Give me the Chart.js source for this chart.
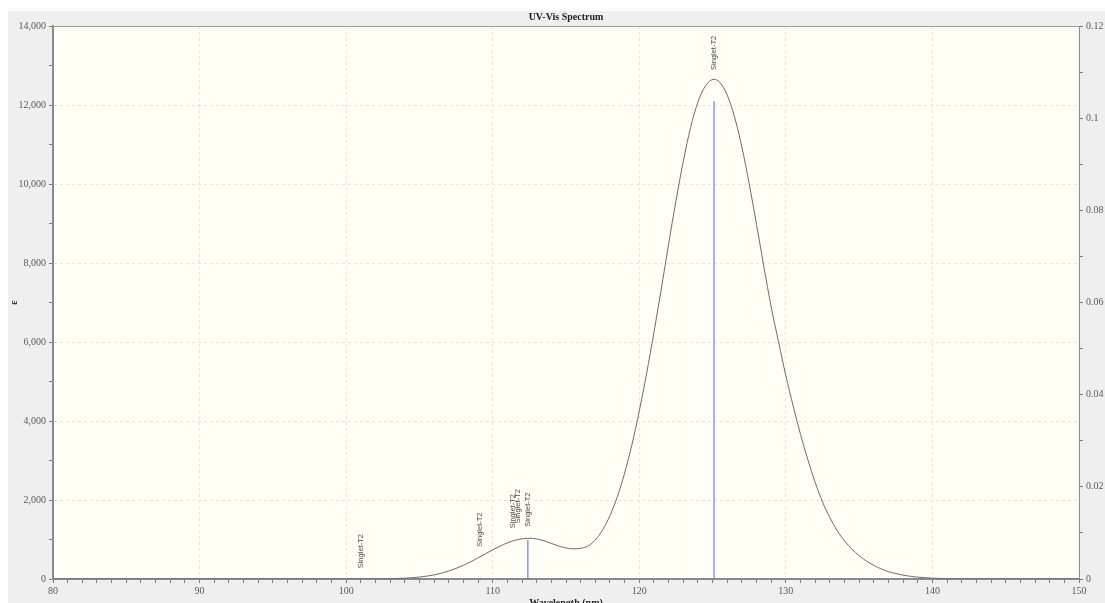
<!DOCTYPE html>
<html>
<head>
<meta charset="utf-8">
<title>UV-Vis Spectrum</title>
<script src="https://cdn.jsdelivr.net/npm/chart.js@4.4.1/dist/chart.umd.min.js"></script>
<style>
  html, body { margin: 0; padding: 0; background: #fff; overflow: hidden; }
  #wrap { position: absolute; left: 8px; top: 11px; width: 1097px; height: 592px; background: #efefef; overflow: hidden; }
  canvas { display: block; }
</style>
</head>
<body>
<div id="wrap"><canvas id="uvChart" width="1097" height="598" style="width:1097px;height:598px"></canvas></div>
<script>
// broadened spectrum (wavelength in nm, epsilon)
const wavelengthNm = [
  80, 85, 90, 95, 100, 101, 102, 103, 104, 104.5,
  105, 105.5, 106, 106.5, 107, 107.5, 108, 108.5, 109, 109.5,
  110, 110.5, 111, 111.5, 112, 112.4, 113, 113.5, 114, 114.5,
  115, 115.5, 116, 116.5, 117, 117.5, 118, 118.5, 119, 119.5,
  120, 120.5, 121, 121.5, 122, 122.5, 123, 123.5, 124, 124.5,
  125.1, 125.5, 126, 126.5, 127, 127.5, 128, 128.5, 129, 129.5,
  130, 130.5, 131, 131.5, 132, 132.5, 133, 133.5, 134, 134.5,
  135, 135.5, 136, 136.5, 137, 137.5, 138, 138.5, 139, 139.5,
  140, 141, 142, 144, 146, 150];
const epsilon = [
  0, 0, 0, 0, 0, 1, 3, 8, 20, 32,
  49, 72, 104, 147, 201, 268, 347, 437, 535, 637,
  738, 832, 915, 978, 1017, 1031, 1015, 967, 901, 835,
  785, 765, 775, 835, 990, 1244, 1604, 2081, 2682, 3405,
  4252, 5205, 6245, 7340, 8479, 9565, 10574, 11428, 12073, 12475,
  12650, 12570, 12250, 11696, 10937, 10000, 8973, 7906, 6886, 6005,
  5148, 4380, 3664, 3020, 2448, 1951, 1558, 1223, 966, 759,
  592, 453, 346, 256, 187, 138, 97, 68, 47, 33,
  21, 9, 4, 1, 0, 0];

// transitions (oscillator strength on the right axis)
const stickNm = [101.0, 109.15, 111.35, 111.69, 112.4, 125.1];
const stickF = [0.0002, 0.0003, 0.0002, 0.0002, 0.0085, 0.1037];
const stickText = ['Singlet-T2', 'Singlet-T2', 'Singlet-T2', 'Singlet-T2', 'Singlet-T2', 'Singlet-T2'];
const labelEps = [271, 818, 1284, 1410, 1324, 12886]; // where each label starts

const spectrum = wavelengthNm.map((x, i) => ({ x: x, y: epsilon[i] }));
const sticks = [];
stickNm.forEach((x, i) => {
  sticks.push({ x: x, y: 0 }, { x: x, y: stickF[i] }, { x: x, y: null });
});

const tickFont = { family: 'Liberation Serif', size: 10 };
const tickGray = '#5a5a5a';
const gridCol = '#e6e6de';

const areaBg = {
  id: 'areaBg',
  beforeDraw(chart) {
    const a = chart.chartArea, c = chart.ctx;
    c.save();
    c.fillStyle = '#fefef5';
    c.fillRect(a.left, a.top, a.right - a.left, a.bottom - a.top);
    c.restore();
  },
  afterDraw(chart) {
    const a = chart.chartArea, c = chart.ctx;
    c.save();
    c.strokeStyle = '#9c9c9c';
    c.lineWidth = 1;
    c.beginPath();
    c.moveTo(a.left, a.top + 0.5);
    c.lineTo(a.right, a.top + 0.5);
    c.stroke();
    c.restore();
  }
};

const stickLabels = {
  id: 'stickLabels',
  afterDatasetsDraw(chart) {
    const xs = chart.scales.x, ys = chart.scales.y, c = chart.ctx;
    c.save();
    c.font = '7.5px "Liberation Sans"';
    c.fillStyle = '#4a4a4a';
    c.textAlign = 'left';
    c.textBaseline = 'middle';
    stickNm.forEach((nm, i) => {
      c.save();
      c.translate(xs.getPixelForValue(nm), ys.getPixelForValue(labelEps[i]));
      c.rotate(-Math.PI / 2);
      c.fillText(stickText[i], 0, 0);
      c.restore();
    });
    c.restore();
  }
};

const ctx = document.getElementById('uvChart').getContext('2d');
const uvChart = new Chart(ctx, {
  type: 'line',
  data: {
    datasets: [{
      label: 'Spectrum',
      data: spectrum,
      borderColor: '#6c6c6c',
      borderWidth: 1,
      pointRadius: 0,
      cubicInterpolationMode: 'monotone',
      yAxisID: 'y'
    }, {
      label: 'Transitions',
      data: sticks,
      borderColor: '#5a5aff',
      borderWidth: 1,
      pointRadius: 0,
      spanGaps: false,
      tension: 0,
      yAxisID: 'y1'
    }]
  },
  options: {
    responsive: false,
    animation: false,
    layout: { padding: 0 },
    plugins: {
      legend: { display: false },
      tooltip: { enabled: false },
      title: {
        display: true,
        text: 'UV-Vis Spectrum',
        fullSize: false,
        color: '#222',
        font: { family: 'Liberation Serif', size: 10, weight: 'bold' },
        padding: { top: 0, bottom: 3 }
      }
    },
    scales: {
      x: {
        type: 'linear',
        min: 80,
        max: 150,
        afterFit: s => { s.height = 30; },
        ticks: {
          stepSize: 1,
          autoSkip: false,
          maxRotation: 0,
          padding: 2,
          color: tickGray,
          font: tickFont,
          callback: v => (v % 10 === 0 ? String(v) : '')
        },
        grid: {
          color: c => (c.tick && c.tick.value % 10 === 0 ? gridCol : 'rgba(0,0,0,0)'),
          tickColor: '#7a7a7a',
          tickLength: 4,
          tickBorderDash: []
        },
        border: { display: true, color: '#8a8a8a', width: 2, dash: [3, 3] },
        title: {
          display: true,
          text: 'Wavelength (nm)',
          color: '#222',
          font: { family: 'Liberation Serif', size: 10, weight: 'bold' },
          padding: 0
        }
      },
      y: {
        position: 'left',
        min: 0,
        max: 14000,
        afterFit: s => { s.width = 45; },
        ticks: {
          stepSize: 1000,
          autoSkip: false,
          padding: 3,
          color: tickGray,
          font: tickFont,
          callback: v => (v % 2000 === 0 ? v.toLocaleString('en-US') : '')
        },
        grid: {
          color: c => (c.tick && c.tick.value % 2000 === 0 ? gridCol : 'rgba(0,0,0,0)'),
          tickColor: '#7a7a7a',
          tickLength: 4,
          tickBorderDash: []
        },
        border: { display: true, color: '#8a8a8a', width: 2, dash: [3, 3] },
        title: {
          display: true,
          text: 'ε',
          color: '#222',
          font: { family: 'Liberation Serif', size: 10, weight: 'bold' },
          padding: 0
        }
      },
      y1: {
        position: 'right',
        min: 0,
        max: 0.12,
        afterFit: s => { s.width = 26; },
        ticks: {
          stepSize: 0.01,
          autoSkip: false,
          padding: 3,
          color: tickGray,
          font: tickFont,
          callback: v => {
            const k = Math.round(v * 100);
            return k % 2 === 0 ? String(k / 100) : '';
          }
        },
        grid: {
          drawOnChartArea: false,
          tickColor: '#7a7a7a',
          tickLength: 4,
          tickBorderDash: []
        },
        border: { display: true, color: '#8a8a8a', width: 1 }
      }
    }
  },
  plugins: [areaBg, stickLabels]
});
</script>
</body>
</html>
